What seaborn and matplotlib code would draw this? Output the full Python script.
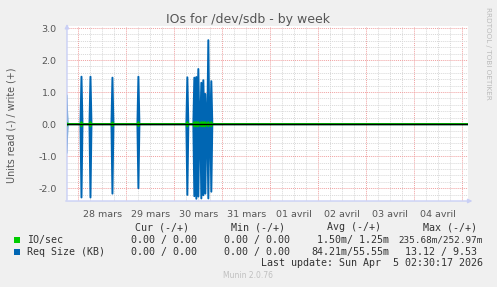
import numpy as np
import pandas as pd
import matplotlib
matplotlib.use("Agg")
import matplotlib.pyplot as plt
from matplotlib.patches import Rectangle
import seaborn as sns

# ---- data (hours from 28 mars 00:00) ----
day_labels = ["28 mars", "29 mars", "30 mars", "31 mars",
              "01 avril", "02 avril", "03 avril", "04 avril"]
spike_hours = [-6.0, 1.5, 6.0, 17.0, 30.0, 54.5, 58.0, 59.0, 60.0,
               61.5, 62.5, 63.5, 65.0, 66.5]
req_write = [0.90, 1.48, 1.48, 1.45, 1.48, 1.46, 1.45, 1.47, 1.72,
             1.29, 1.37, 0.94, 2.62, 1.34]
req_read = [0.90, 2.29, 2.29, 2.17, 2.00, 2.21, 2.25, 2.33, 2.26,
            2.32, 2.22, 2.17, 2.32, 2.11]
io_write = [0.04, 0.06, 0.06, 0.05, 0.06, 0.06, 0.06, 0.06, 0.06,
            0.06, 0.06, 0.06, 0.06, 0.06]
io_read = [0.05, 0.07, 0.07, 0.06, 0.06, 0.07, 0.07, 0.07, 0.07,
           0.07, 0.07, 0.07, 0.07, 0.07]

# sample grid (30-minute steps), zero readings between the spikes
hours = np.arange(-8.0, 196.0, 0.5)
def series(vals):
    s = pd.Series(0.0, index=hours)
    for h, v in zip(spike_hours, vals):
        s.loc[h] = v
    return s.values

df = pd.DataFrame({
    "h": hours,
    "req_w": series(req_write),
    "req_r": -series(req_read),
    "io_w": series(io_write),
    "io_r": -series(io_read),
})

BG = "#F0F0F0"
BLUE = "#0066B3"
GREEN = "#00CC00"
AXIS = "#C9CFF5"
TXT = "#555555"

sns.set_style("white")
plt.rcParams["font.family"] = ["DejaVu Sans"]

W, H = 497, 287
fig = plt.figure(figsize=(W / 100, H / 100), dpi=100, facecolor=BG)

def px(x, y):
    return x / W, 1 - y / H

left, right, top, bottom = 67, 468, 26.4, 201
ax = fig.add_axes([left / W, 1 - bottom / H, (right - left) / W, (bottom - top) / H])
ax.set_facecolor("white")

xmin, xmax = -5.75, 195.0
ax.set_xlim(xmin, xmax)
ax.set_ylim(-2.4, 3.05)

# grid
ax.set_yticks(np.arange(-2, 3.01, 1.0))
ax.set_yticks([v for v in np.round(np.arange(-2.4, 3.05, 0.2), 1) if abs(v - round(v)) > 1e-6], minor=True)
ax.set_yticklabels(["%.1f" % v for v in np.arange(-2, 3.01, 1.0)])
ax.set_xticks(np.arange(0, 195, 24))
ax.set_xticklabels([])
minor_x = [h for h in np.arange(-0, 195, 6) if h % 24 != 0]
minor_lab = [day_labels[int(h // 24)] if (h % 24 == 12 and int(h // 24) < len(day_labels)) else "" for h in minor_x]
ax.set_xticks(minor_x, minor=True)
ax.set_xticklabels(minor_lab, minor=True)

ax.grid(True, which="minor", color="#D8D8D8", linestyle=(0, (1, 1)), linewidth=0.7)
ax.grid(True, which="major", color="#F0A0A0", linestyle=(0, (1, 1)), linewidth=0.7)
ax.set_axisbelow(True)

ax.tick_params(axis="both", which="major", length=2.5, width=0.7, color="#F0A0A0",
               labelsize=6.8, labelcolor=TXT, direction="out", pad=2)
ax.tick_params(axis="both", which="minor", length=1.5, width=0.7, color="#CCCCCC",
               labelsize=6.8, labelcolor=TXT, direction="out", pad=4)
ax.tick_params(axis="x", which="minor", pad=5)
ax.tick_params(axis="y", which="major", pad=5)
for s in ax.spines.values():
    s.set_visible(False)

# data
sns.lineplot(data=df, x="h", y="req_w", ax=ax, color=BLUE, linewidth=1.4, estimator=None, zorder=3)
sns.lineplot(data=df, x="h", y="req_r", ax=ax, color=BLUE, linewidth=1.4, estimator=None, zorder=3)
sns.lineplot(data=df, x="h", y="io_w", ax=ax, color=GREEN, linewidth=1.4, estimator=None, zorder=4)
sns.lineplot(data=df, x="h", y="io_r", ax=ax, color=GREEN, linewidth=1.4, estimator=None, zorder=4)
ax.axhline(0, color="black", linewidth=1.0, zorder=5)
ax.set_xlabel("")
ax.set_ylabel("")

fig.text(*px(12, 125), "Units read (-) / write (+)", rotation=90, ha="center", va="center",
         fontsize=6.9, color=TXT)

# axis arrows
ax.annotate("", xy=(0, 1.03), xytext=(0, -0.01), xycoords="axes fraction",
            arrowprops=dict(arrowstyle="-|>", color=AXIS, lw=1.0, mutation_scale=6))
ax.annotate("", xy=(1.018, 0), xytext=(-0.01, 0), xycoords="axes fraction",
            arrowprops=dict(arrowstyle="-|>", color=AXIS, lw=1.0, mutation_scale=6))

# texts
fig.text(*px(248.5, 19), "IOs for /dev/sdb - by week", ha="center", va="center",
         fontsize=9.0, color=TXT)
fig.text(*px(488, 53), "RRDTOOL / TOBI OETIKER", ha="center", va="center",
         rotation=270, fontsize=5.2, color="#BBBBBB")

mono = dict(family="DejaVu Sans Mono", fontsize=7.2, color="#333333", va="center")
fig.text(*px(135, 227.5), "Cur (-/+)", ha="left", **mono)
fig.text(*px(231, 227.5), "Min (-/+)", ha="left", **mono)
fig.text(*px(327, 227.5), "Avg (-/+)", ha="left", **mono)
fig.text(*px(423, 227.5), "Max (-/+)", ha="left", **mono)

fig.patches.append(Rectangle(px(14, 243), 6 / W, 6 / H, transform=fig.transFigure,
                             facecolor=GREEN, edgecolor="none", figure=fig))
fig.patches.append(Rectangle(px(14, 255), 6 / W, 6 / H, transform=fig.transFigure,
                             facecolor=BLUE, edgecolor="none", figure=fig))

fig.text(*px(27, 240), "IO/sec", ha="left", **mono)
fig.text(*px(131, 240), "0.00 / 0.00", ha="left", **mono)
fig.text(*px(224, 240), "0.00 / 0.00", ha="left", **mono)
fig.text(*px(317, 240), "1.50m/ 1.25m", ha="left", **mono)
mono_small = dict(mono)
mono_small["fontsize"] = 6.7
fig.text(*px(483, 240), "235.68m/252.97m", ha="right", **mono_small)

fig.text(*px(27, 252), "Req Size (KB)", ha="left", **mono)
fig.text(*px(131, 252), "0.00 / 0.00", ha="left", **mono)
fig.text(*px(224, 252), "0.00 / 0.00", ha="left", **mono)
fig.text(*px(311, 252), "84.21m/55.55m", ha="left", **mono)
fig.text(*px(405, 252), "13.12 / 9.53", ha="left", **mono)

fig.text(*px(483, 263.5), "Last update: Sun Apr  5 02:30:17 2026", ha="right", **mono)
fig.text(*px(248, 276), "Munin 2.0.76", ha="center", va="center", fontsize=5.5, color="#C0C0C0")

fig.savefig("out.png", dpi=100, facecolor=BG)
